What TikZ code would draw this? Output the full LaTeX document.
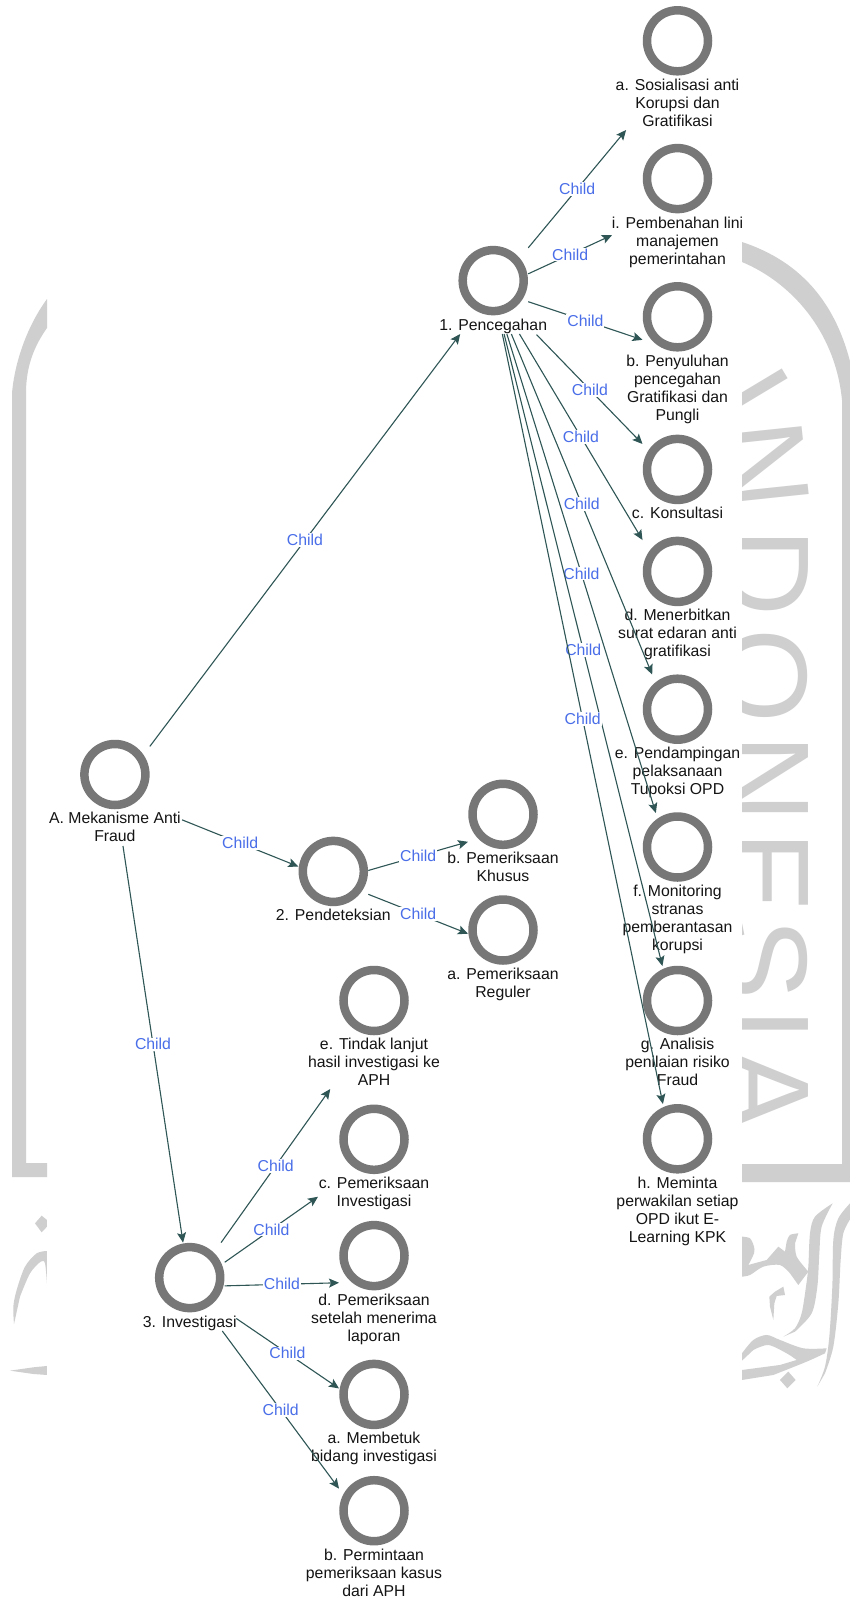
\documentclass[tikz,border=0pt]{standalone}
\usepackage{fontspec}
\setmainfont{Liberation Sans}
\usetikzlibrary{arrows.meta}
\definecolor{wmgray}{HTML}{CFCFCF}
\definecolor{ringc}{HTML}{777777}
\definecolor{edgec}{HTML}{2F5555}
\definecolor{childc}{HTML}{4A6EE8}
\definecolor{labc}{HTML}{141414}
\tikzset{
  hitbox/.style={rectangle,inner sep=0pt,outer sep=0pt},
  ringnode/.style={circle,draw=ringc,line width=8.5pt,inner sep=0pt,outer sep=0pt,minimum size=61pt},
  vlabel/.style={anchor=north,inner sep=0pt,outer sep=0pt,align=center,text=labc,font=\fontsize{15.8}{18}\selectfont},
  linkedge/.style={draw=edgec,line width=1.1pt,-{Stealth[length=10pt,width=9pt,inset=2pt]}},
  childlab/.style={fill=white,inner xsep=1pt,inner ysep=1pt,text=childc,font=\fontsize{15.8}{16}\selectfont},
  wmletter/.style={anchor=north,inner sep=0pt,outer sep=0pt,text=wmgray,font=\fontsize{122}{122}\selectfont}
}
% name, ring cx, ring cy, x1, x2, y1, y2, text
\newcommand{\vtx}[8]{%
  \pgfmathsetmacro{\vw}{#5-#4}\pgfmathsetmacro{\vh}{#7-#6}%
  \pgfmathsetmacro{\vx}{(#4+#5)/2}\pgfmathsetmacro{\vy}{(#6+#7)/2}%
  \pgfmathsetmacro{\vt}{#3+38}%
  \node[ringnode] (#1R) at (#2,#3) {};
  \node[vlabel] (#1L) at (#2,\vt) {#8};
  \node[hitbox,minimum width=\vw pt,minimum height=\vh pt] (#1) at (\vx,\vy) {};
}
\newcommand{\wml}[2]{\node[wmletter,rotate=-90] at (808,#1) {#2};}
\begin{document}
\begin{tikzpicture}[x=1pt,y=-1pt]
\useasboundingbox (0,0) rectangle (850,1598);
\fill[white] (0,0) rectangle (850,1598);
% watermark
\begin{scope}
\clip (0,0) rectangle (47,1598) (742,0) rectangle (850,1598);
\fill[wmgray] (12,1177) -- (12,393) .. controls (15,360) and (28,325) .. (47,299) -- (47,328)
  .. controls (35,345) and (26,365) .. (26,393) -- (26,1163) -- (47,1163) -- (47,1177) -- cycle;
\fill[wmgray] (742,242) .. controls (790,258) and (845,295) .. (857,400) -- (857,1164) -- (850,1182) -- (742,1182) -- (742,1164) -- (842,1164) -- (842,400)
  .. controls (835,330) and (790,282) .. (742,262) -- cycle;
\node[wmletter,rotate=-84] at (806,461) {N};
\wml{573}{D}\wml{676}{O}\wml{779}{N}\wml{872}{E}\wml{959}{S}\wml{1024}{I}\wml{1090}{A}
\node[wmletter,rotate=-59] at (785,374) {I};
% calligraphy, right
\begin{scope}[shift={(730,1020)},x=0.3333pt,y=-0.3333pt]
\fill[wmgray] plot[smooth,tension=.5] coordinates {(362,548) (325,595) (310,660) (307,800) (298,950) (285,1040) (262,1100)}
  -- plot[smooth,tension=.5] coordinates {(285,1060) (310,980) (325,850) (332,720) (340,640) (362,595)} -- cycle;
\fill[wmgray] plot[smooth,tension=.5] coordinates {(308,550) (255,590) (240,640) (235,740) (228,800) (215,880) (195,925) (160,950)}
  -- plot[smooth,tension=.5] coordinates {(195,935) (245,880) (262,800) (268,700) (275,620) (308,550)} -- cycle;
\fill[wmgray] plot[smooth,tension=.5] coordinates {(36,650) (60,655) (72,680) (72,700) (55,735)}
  -- plot[smooth,tension=.5] coordinates {(110,720) (145,680)} -- (165,695) -- plot[smooth,tension=.5] coordinates {(170,665) (180,645) (205,640)}
  -- plot[smooth,tension=.5] coordinates {(195,670) (200,710) (235,755)} -- (205,795)
  -- plot[smooth,tension=.5] coordinates {(180,760) (150,735) (100,740) (60,765) (36,770)} -- cycle;
\fill[wmgray] (160,800) -- (135,815) -- (118,830) -- (120,860) -- (130,900) -- (133,850) -- (140,828) -- (165,825) -- cycle;
\fill[wmgray] plot[smooth,tension=.5] coordinates {(290,985) (220,985) (150,960) (110,945) (70,960) (36,1000)}
  -- (36,1022) -- plot[smooth,tension=.5] coordinates {(70,990) (115,975) (170,1000) (200,1020)}
  -- plot[smooth,tension=.5] coordinates {(150,1035) (36,1050)} -- (36,1080)
  -- plot[smooth,tension=.5] coordinates {(130,1065) (230,1025) (285,1000)} -- cycle;
\fill[wmgray] (175,1055) -- (197,1080) -- (172,1105) -- (150,1080) -- cycle;
\end{scope}
% calligraphy, left
\begin{scope}[shift={(0,1120)},x=0.3333pt,y=-0.3333pt]
\fill[wmgray] (125,287) -- (141,300) -- (141,320) -- (125,337) -- (105,310) -- cycle;
\fill[wmgray] plot[smooth,tension=.5] coordinates {(141,393) (110,400) (75,440) (50,510) (40,560) (42,612)}
  -- plot[smooth,tension=.5] coordinates {(60,530) (90,460) (122,425) (135,430) (141,490)} -- cycle;
\fill[wmgray] (30,752) -- (100,742) -- (141,738) -- (141,765) -- (100,762) -- cycle;
\end{scope}
\end{scope}
% vertices
\vtx{a}{677.5}{40.8}{615}{740}{6}{130}{a. Sosialisasi anti\\Korupsi dan\\Gratifikasi}
\vtx{i}{677.5}{178.6}{612}{742.5}{144}{266}{i. Pembenahan lini\\manajemen\\pemerintahan}
\vtx{one}{493.2}{280.6}{458.2}{528.2}{246}{334}{1. Pencegahan}
\vtx{b}{677.5}{316.8}{642.5}{712.5}{282}{421}{b. Penyuluhan\\pencegahan\\Gratifikasi dan\\Pungli}
\vtx{c}{677.5}{469.4}{642.5}{712.5}{435}{525}{c. Konsultasi}
\vtx{d}{677.5}{571.4}{642.5}{712.5}{537}{660}{d. Menerbitkan\\surat edaran anti\\gratifikasi}
\vtx{e}{677.5}{709.2}{642.5}{712.5}{674.5}{797}{e. Pendampingan\\pelaksanaan\\Tupoksi OPD}
\vtx{f}{677.5}{847}{642.5}{712.5}{813}{953}{f. Monitoring\\stranas\\pemberantasan\\korupsi}
\vtx{g}{677.5}{1000.5}{642.5}{712.5}{966}{1088}{g. Analisis\\penilaian risiko\\Fraud}
\vtx{h}{677.5}{1138.8}{642.5}{712.5}{1104}{1244}{h. Meminta\\perwakilan setiap\\OPD ikut E-\\Learning KPK}
\vtx{root}{114.9}{774.5}{48}{182}{740}{846}{A. Mekanisme Anti\\Fraud}
\vtx{two}{333.3}{871.4}{298.3}{368.3}{836}{925}{2. Pendeteksian}
\vtx{khusus}{503}{814.3}{468}{538}{779.5}{884}{b. Pemeriksaan\\Khusus}
\vtx{reguler}{503}{930}{468}{538}{895}{1000}{a. Pemeriksaan\\Reguler}
\vtx{three}{189.7}{1277.6}{154.7}{224.7}{1242.6}{1331}{3. Investigasi}
\vtx{tindak}{374}{1000.5}{307}{441}{965.5}{1089}{e. Tindak lanjut\\hasil investigasi ke\\APH}
\vtx{invest}{374}{1139.3}{318}{430}{1104}{1211}{c. Pemeriksaan\\Investigasi}
\vtx{lapor}{374}{1255.6}{339}{409}{1220.6}{1343}{d. Pemeriksaan\\setelah menerima\\laporan}
\vtx{bidang}{374}{1394.4}{339}{409}{1359.4}{1465}{a. Membetuk\\bidang investigasi}
\vtx{minta}{374}{1510.7}{339}{409}{1475.7}{1596}{b. Permintaan\\pemeriksaan kasus\\dari APH}
% connectors
\draw[linkedge,shorten <=-8pt] (root) -- node[childlab,pos=.492]{Child} (one);
\draw[linkedge] (root) -- node[childlab]{Child} (two);
\draw[linkedge] (root) -- node[childlab]{Child} (three);
\draw[linkedge] (one) -- node[childlab]{Child} (a);
\draw[linkedge] (one) -- node[childlab]{Child} (i);
\draw[linkedge] (one) -- node[childlab]{Child} (b);
\draw[linkedge,shorten <=12pt] (one) -- node[childlab,pos=.54]{Child} (c);
\draw[linkedge] (one) -- node[childlab]{Child} (d);
\draw[linkedge] (one) -- node[childlab]{Child} (e);
\draw[linkedge] (one) -- node[childlab]{Child} (f);
\draw[linkedge] (one) -- node[childlab]{Child} (g);
\draw[linkedge] (one) -- node[childlab]{Child} (h);
\draw[linkedge] (two) -- node[childlab]{Child} (khusus);
\draw[linkedge] (two) -- node[childlab]{Child} (reguler);
\draw[linkedge] (three) -- node[childlab]{Child} (tindak);
\draw[linkedge] (three) -- node[childlab]{Child} (invest);
\draw[linkedge] (three) -- node[childlab]{Child} (lapor);
\draw[linkedge,shorten <=14pt] (three) -- node[childlab,pos=.549]{Child} (bidang);
\draw[linkedge] (three) -- node[childlab]{Child} (minta);
\end{tikzpicture}
\end{document}
